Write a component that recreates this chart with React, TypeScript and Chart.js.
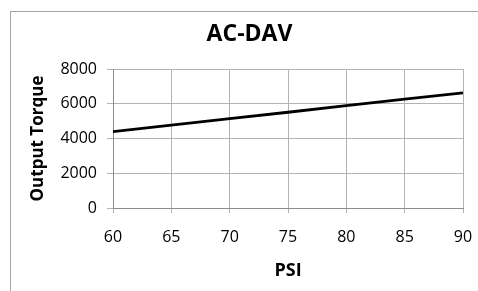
import React, { useEffect, useRef } from "react";
import { Chart, registerables } from "chart.js";

Chart.register(...registerables);

const psi = [60, 65, 70, 75, 80, 85, 90];
const torque = [4400, 4770, 5150, 5510, 5890, 6260, 6630];
const xTicks = [60, 65, 70, 75, 80, 85, 90];
const yTicks = [0, 2000, 4000, 6000, 8000];

const FONT = "'Open Sans', 'Noto Sans', sans-serif";

export default function App() {
  const ref = useRef<HTMLCanvasElement | null>(null);
  useEffect(() => {
    if (!ref.current) return;
    const chart = new Chart(ref.current, {
      type: "line",
      data: {
        datasets: [
          {
            data: psi.map((x, i) => ({ x, y: torque[i] })),
            borderColor: "#000000",
            borderWidth: 2.8,
            pointRadius: 0,
            tension: 0,
          },
        ],
      },
      options: {
        animation: false,
        responsive: false,
        devicePixelRatio: 1,
        layout: { padding: { left: 36, right: 15, top: 0, bottom: 0 } },
        plugins: {
          legend: { display: false },
          tooltip: { enabled: false },
          title: {
            display: true,
            text: "AC-DAV",
            color: "#000",
            font: { family: FONT, size: 23, weight: "bold", lineHeight: 1.2 },
            padding: { top: 21, bottom: 20.4 },
          },
        },
        scales: {
          x: {
            type: "linear",
            min: 60,
            max: 90,
            afterBuildTicks: (s: any) => {
              s.ticks = xTicks.map((v) => ({ value: v }));
            },
            afterFit: (s: any) => {
              s.height = 83;
              s.paddingLeft = 0;
              s.paddingRight = 0;
            },
            ticks: {
              color: "#000",
              font: { family: FONT, size: 16 },
              padding: 15,
              maxRotation: 0,
              callback: (v: any) => String(v),
            },
            grid: { color: "#b3b3b3", lineWidth: 1, tickLength: 5, drawTicks: true },
            border: { color: "#8c8c8c", width: 1 },
            title: {
              display: true,
              text: "PSI",
              color: "#000",
              font: { family: FONT, size: 18, weight: "bold", lineHeight: 1.2 },
              padding: { top: 0, bottom: 9 },
            },
          },
          y: {
            type: "linear",
            min: 0,
            max: 8000,
            afterBuildTicks: (s: any) => {
              s.ticks = yTicks.map((v) => ({ value: v }));
            },
            afterFit: (s: any) => {
              s.width = 77;
              s.paddingTop = 0;
              s.paddingBottom = 0;
            },
            ticks: {
              color: "#000",
              font: { family: FONT, size: 16 },
              padding: 10,
              callback: (v: any) => String(v),
            },
            grid: { color: "#b3b3b3", lineWidth: 1, tickLength: 6 },
            border: { color: "#8c8c8c", width: 1 },
            title: {
              display: true,
              text: "Output Torque",
              color: "#000",
              font: { family: FONT, size: 17, weight: "bold", lineHeight: 1.2 },
              padding: { top: -8, bottom: 0 },
            },
          },
        },
      },
    });
    return () => chart.destroy();
  }, []);
  return (
    <div style={{ position: "fixed", left: 0, top: 0, width: 478, height: 291, background: "#fff", overflow: "hidden" }}>
      <div
        style={{
          position: "absolute",
          left: 10,
          top: 11,
          width: 600,
          height: 400,
          border: "1px solid #a6a6a6",
          boxSizing: "border-box",
        }}
      />
      <canvas ref={ref} width={478} height={291} style={{ position: "absolute", left: 0, top: 0, width: 478, height: 291 }} />
    </div>
  );
}
